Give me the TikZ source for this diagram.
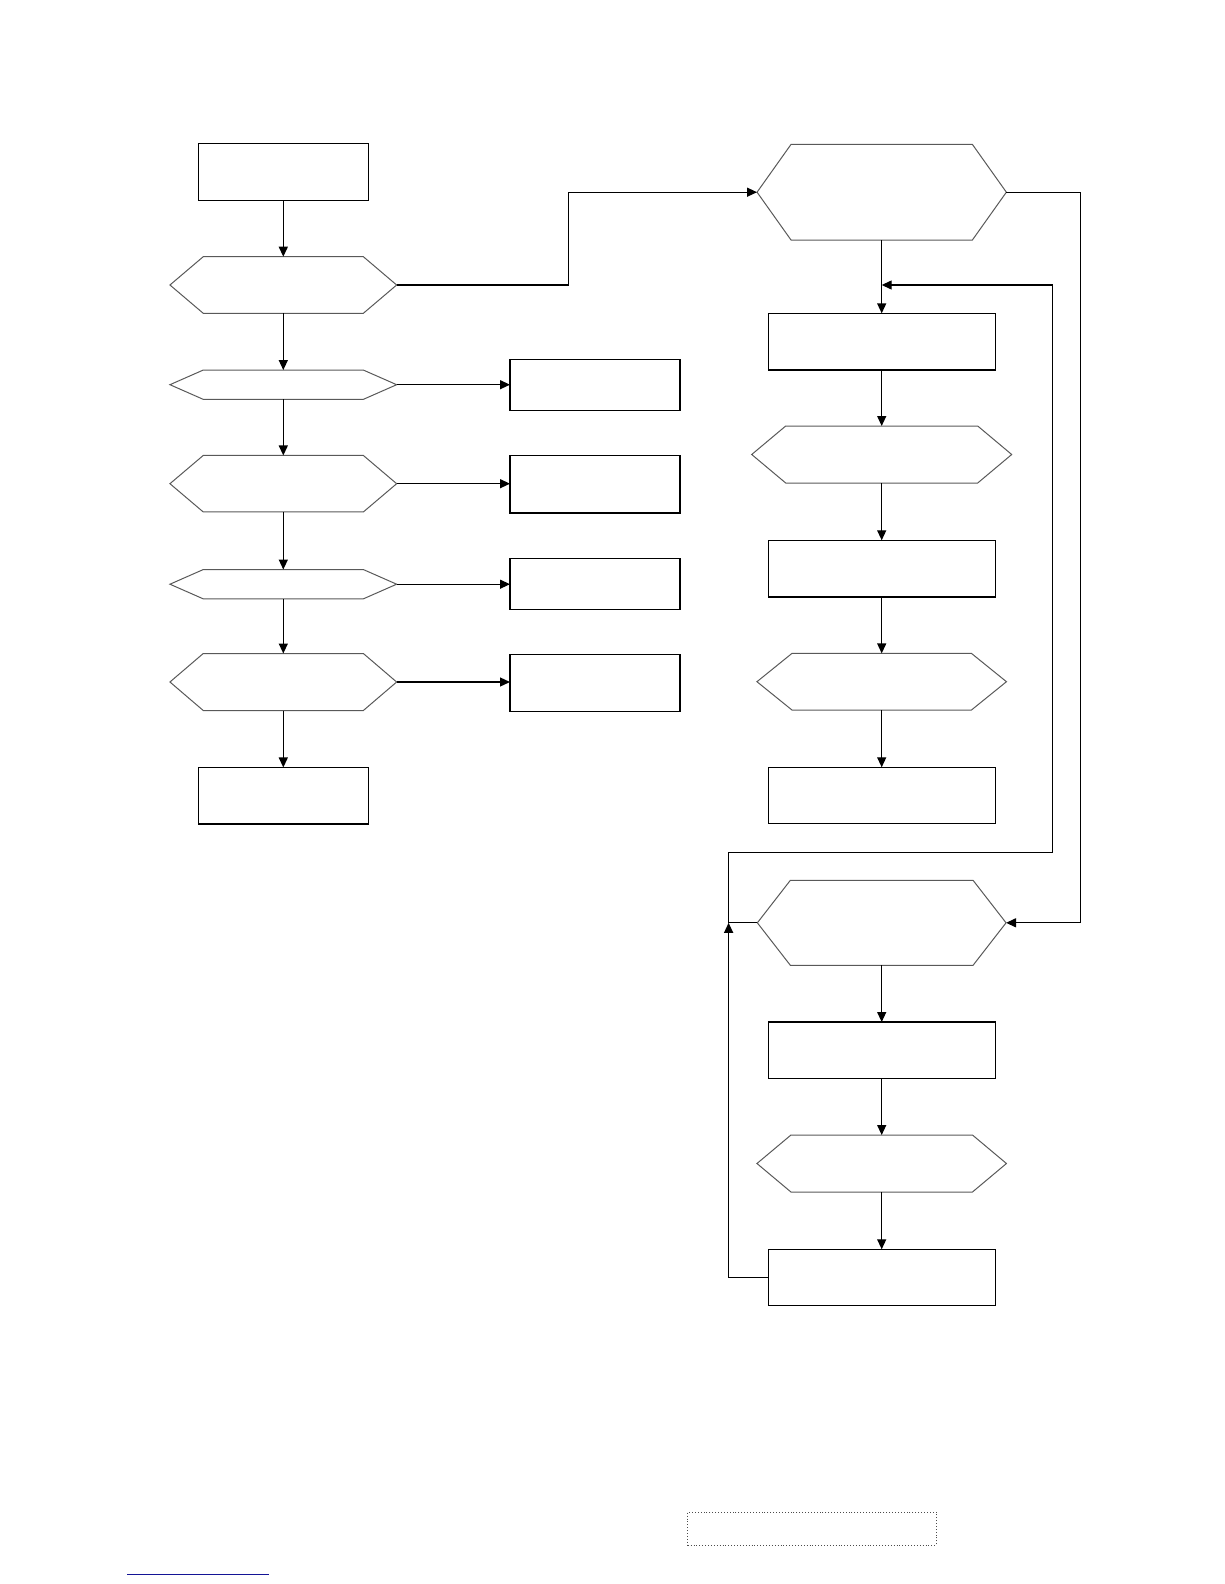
\documentclass[tikz,border=0pt]{standalone}
\usetikzlibrary{arrows.meta}
\tikzset{
  box/.style={draw=black,line width=1.3pt,minimum width=170pt,minimum height=#1,inner sep=0pt,outer sep=0pt},
  rbox/.style={draw=black,line width=1.3pt,minimum width=227pt,minimum height=#1,inner sep=0pt,outer sep=0pt},
  hexbox/.style={draw=none,inner sep=0pt,outer sep=0pt},
  hexline/.style={draw=black!65,line width=1pt,line join=miter},
  conn/.style={draw=black,line width=1.3pt},
  arr/.style={conn,-{Triangle[length=10pt,width=9pt]}},
}
\newcommand\hexshape[6]{%
  \node[hexbox,minimum width=#4pt,minimum height=#5pt] (#1) at (#2,#3) {};
  \draw[hexline] (#1.west) -- ([xshift=#6pt]#1.north west) -- ([xshift=-#6pt]#1.north east)
    -- (#1.east) -- ([xshift=-#6pt]#1.south east) -- ([xshift=#6pt]#1.south west) -- cycle;
}
\begin{document}
\begin{tikzpicture}[x=1pt,y=-1pt]
\useasboundingbox (0,0) rectangle (1224,1584);
% left column
\node[box=57pt] (b1) at (283.3,171.8) {};
\hexshape{h1}{283.3}{285}{226.7}{56.6}{33.3}
\hexshape{h2}{283.3}{384.7}{226.7}{29.3}{33.3}
\hexshape{h3}{283.3}{483.7}{226.7}{56.5}{33.3}
\hexshape{h4}{283.3}{584.2}{226.7}{29.3}{33.3}
\hexshape{h5}{283.3}{682}{226.7}{57}{33.3}
\node[box=56.5pt] (b2) at (283.3,795.7) {};
% right boxes of left column
\node[box=51pt] (r1) at (595,384.8) {};
\node[box=57.5pt] (r2) at (595,484.2) {};
\node[box=51pt] (r3) at (595,583.8) {};
\node[box=57pt] (r4) at (595,682.8) {};
% right column
\hexshape{hr1}{881.7}{192.2}{249.3}{95.7}{34}
\node[rbox=56.7pt] (c1) at (881.7,341.7) {};
\hexshape{hr2}{881.7}{454.5}{260}{57}{34}
\node[rbox=56.6pt] (c2) at (881.7,568.6) {};
\hexshape{hr3}{881.7}{681.7}{249.5}{56.6}{35}
\node[rbox=56pt] (c3) at (881.7,795.3) {};
\hexshape{hr4}{881.7}{922.8}{248.7}{85}{33}
\node[rbox=56.6pt] (c4) at (881.7,1050.3) {};
\hexshape{hr5}{881.7}{1163.5}{249.5}{57}{34}
\node[rbox=56pt] (c5) at (881.7,1277.3) {};
% dotted box
\node[draw=black!70,dotted,line width=0.9pt,minimum width=248.5pt,minimum height=33pt,inner sep=0pt] (foot) at (812,1528.5) {};
% connectors left column
\draw[arr] (b1.south) -- (h1.north);
\draw[arr] (h1.south) -- (h2.north);
\draw[arr] (h2.south) -- (h3.north);
\draw[arr] (h3.south) -- (h4.north);
\draw[arr] (h4.south) -- (h5.north);
\draw[arr] (h5.south) -- (b2.north);
\draw[arr] (h2.east) -- (r1.west |- h2.east);
\draw[arr] (h3.east) -- (r2.west |- h3.east);
\draw[arr] (h4.east) -- (r3.west |- h4.east);
\draw[arr] (h5.east) -- (r4.west |- h5.east);
\draw[arr] (h1.east) -- (568.3,285) -- (568.3,192.2) -- (hr1.west);
% right column
\draw[arr] (hr1.south) -- (c1.north);
\draw[arr] (c1.south) -- (hr2.north);
\draw[arr] (hr2.south) -- (c2.north);
\draw[arr] (c2.south) -- (hr3.north);
\draw[arr] (hr3.south) -- (c3.north);
\draw[arr] (hr4.south) -- (c4.north);
\draw[arr] (c4.south) -- (hr5.north);
\draw[arr] (hr5.south) -- (c5.north);
\coordinate (j1) at (881.7,285);
\coordinate (j2) at (728.6,922.8);
\draw[arr] (hr1.east) -- (1080.3,192.2) -- (1080.3,922.8) -- (hr4.east);
\draw[arr] (hr4.west) -- (j2) -- (728.6,852.3) -- (1052.3,852.3) -- (1052.3,285) -- (j1);
\draw[arr] (c5.west) -- (728.6,1277.3) -- (j2);
% underline at bottom left
\draw[draw={rgb,255:red,20;green,20;blue,150},line width=1.6pt] (127,1574.5) -- (268.6,1574.5);
\end{tikzpicture}
\end{document}
